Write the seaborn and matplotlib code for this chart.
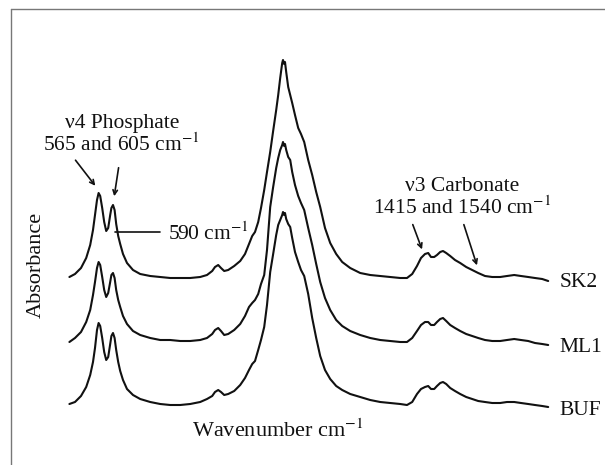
import matplotlib
matplotlib.use("Agg")
import matplotlib.pyplot as plt
from matplotlib.lines import Line2D
import seaborn as sns
import pandas as pd

# ---- data (wavenumber grid, offset absorbance of three spectra) ----
wavenumber = [496, 510, 525, 538, 548, 555, 560, 565, 569, 573, 578, 583, 588, 593, 598, 601, 605, 609, 613, 618,
              623, 630, 640, 655, 673, 698, 723, 748, 773, 798, 823, 840, 853, 860, 868, 875, 883, 893, 908, 923,
              935, 945, 953, 960, 968, 975, 983, 990, 998, 1005, 1013, 1018, 1023, 1028, 1030, 1033, 1035, 1038, 1043, 1048,
              1053, 1060, 1068, 1075, 1083, 1093, 1103, 1113, 1123, 1135, 1148, 1163, 1178, 1198, 1223, 1248, 1273, 1298, 1323, 1340,
              1353, 1365, 1375, 1385, 1393, 1400, 1408, 1415, 1423, 1430, 1438, 1448, 1460, 1473, 1488, 1503, 1518, 1535, 1553, 1573,
              1590, 1608, 1625, 1643, 1660, 1678, 1693]

sk2 = [1.43, 1.46, 1.52, 1.62, 1.75, 1.90, 2.05, 2.20, 2.27, 2.24, 2.12, 1.98, 1.89, 1.92, 2.05, 2.12, 2.15, 2.10, 1.96, 1.84,
       1.76, 1.66, 1.57, 1.50, 1.46, 1.44, 1.43, 1.42, 1.42, 1.42, 1.43, 1.45, 1.49, 1.53, 1.55, 1.52, 1.49, 1.50, 1.54, 1.59,
       1.66, 1.76, 1.84, 1.88, 1.98, 2.12, 2.30, 2.48, 2.68, 2.88, 3.10, 3.25, 3.42, 3.57, 3.60, 3.56, 3.58, 3.48, 3.33, 3.25,
       3.17, 3.05, 2.92, 2.86, 2.78, 2.60, 2.45, 2.28, 2.13, 1.92, 1.77, 1.66, 1.58, 1.52, 1.47, 1.45, 1.44, 1.43, 1.42, 1.42,
       1.46, 1.54, 1.62, 1.66, 1.67, 1.63, 1.63, 1.65, 1.68, 1.69, 1.67, 1.64, 1.60, 1.57, 1.53, 1.50, 1.47, 1.44, 1.43, 1.43,
       1.44, 1.45, 1.44, 1.43, 1.42, 1.41, 1.39]

ml1 = [0.78, 0.82, 0.88, 0.98, 1.10, 1.25, 1.38, 1.52, 1.58, 1.55, 1.43, 1.30, 1.23, 1.27, 1.38, 1.45, 1.47, 1.42, 1.30, 1.20,
       1.13, 1.04, 0.96, 0.89, 0.85, 0.82, 0.80, 0.80, 0.79, 0.79, 0.80, 0.82, 0.86, 0.90, 0.92, 0.89, 0.85, 0.86, 0.90, 0.96,
       1.04, 1.13, 1.17, 1.20, 1.26, 1.36, 1.45, 1.70, 2.13, 2.32, 2.52, 2.62, 2.70, 2.75, 2.78, 2.74, 2.76, 2.70, 2.63, 2.60,
       2.48, 2.35, 2.24, 2.17, 2.10, 1.92, 1.75, 1.56, 1.38, 1.22, 1.10, 1.00, 0.94, 0.89, 0.85, 0.82, 0.80, 0.79, 0.78, 0.78,
       0.82, 0.89, 0.95, 0.98, 0.98, 0.95, 0.95, 0.98, 1.01, 1.02, 0.99, 0.95, 0.92, 0.89, 0.86, 0.84, 0.82, 0.80, 0.79, 0.79,
       0.80, 0.81, 0.80, 0.79, 0.77, 0.76, 0.75]

buf = [0.16, 0.18, 0.24, 0.33, 0.45, 0.58, 0.72, 0.90, 0.97, 0.94, 0.82, 0.68, 0.60, 0.63, 0.76, 0.84, 0.87, 0.82, 0.70, 0.58,
       0.49, 0.40, 0.31, 0.25, 0.21, 0.18, 0.16, 0.15, 0.15, 0.16, 0.18, 0.21, 0.24, 0.28, 0.30, 0.28, 0.25, 0.26, 0.29, 0.35,
       0.42, 0.50, 0.56, 0.59, 0.70, 0.80, 0.93, 1.15, 1.48, 1.65, 1.85, 1.95, 2.00, 2.05, 2.08, 2.05, 2.07, 2.01, 1.96, 1.93,
       1.82, 1.68, 1.58, 1.50, 1.44, 1.26, 1.02, 0.82, 0.64, 0.50, 0.41, 0.34, 0.30, 0.26, 0.23, 0.20, 0.18, 0.17, 0.16, 0.15,
       0.18, 0.26, 0.31, 0.33, 0.34, 0.31, 0.31, 0.34, 0.37, 0.38, 0.36, 0.32, 0.29, 0.26, 0.23, 0.21, 0.19, 0.18, 0.17, 0.17,
       0.18, 0.18, 0.17, 0.16, 0.15, 0.14, 0.13]

samples = ["SK2", "ML1", "BUF"]
series = [sk2, ml1, buf]

# ---- build long table ----
frames = []
for name, vals in zip(samples, series):
    frames.append(pd.DataFrame({"wavenumber": wavenumber, "absorbance": vals, "sample": name}))
df = pd.concat(frames, ignore_index=True)

sns.set_style("white")
plt.rcParams["font.family"] = ["Liberation Serif", "DejaVu Serif"]
plt.rcParams["mathtext.fontset"] = "stix"

fig = plt.figure(figsize=(6.05, 4.65), dpi=100)
ax = fig.add_axes([0, 0, 1, 1])
sns.lineplot(data=df, x="wavenumber", y="absorbance", hue="sample",
             palette={s: "#111111" for s in samples}, estimator=None, sort=False,
             linewidth=1.5, legend=False, ax=ax)
ax.set_xlim(322.5, 1835)
ax.set_ylim(-0.45, 4.2)
ax.axis("off")

txt = "#111111"
fs = 15.5
# sample labels
label_y = [1.33, 0.68, 0.05]
for name, yy in zip(samples, label_y):
    ax.text(1722, yy, name, fontsize=fs, color=txt, ha="left", va="baseline")

# phosphate annotation
ax.text(627, 2.92, "ν4 Phosphate", fontsize=fs, color=txt, ha="center", va="baseline")
ax.text(627, 2.69, "565 and 605 cm$^{-1}$", fontsize=fs, color=txt, ha="center", va="baseline")
arrow_kw = dict(arrowstyle="->", color="#111111", lw=1.2, mutation_scale=8)
ax.annotate("", xy=(565, 2.32), xytext=(507, 2.62), arrowprops=arrow_kw)
ax.annotate("", xy=(607, 2.21), xytext=(620, 2.55), arrowprops=arrow_kw)

# 590 label with leader line
ax.plot([610, 722], [1.883, 1.883], color="#111111", lw=1.2)
ax.text(742, 1.80, "590 cm$^{-1}$", fontsize=fs, color=txt, ha="left", va="baseline")

# carbonate annotation
ax.text(1477, 2.29, "ν3 Carbonate", fontsize=fs, color=txt, ha="center", va="baseline")
ax.text(1477, 2.06, "1415 and 1540 cm$^{-1}$", fontsize=fs, color=txt, ha="center", va="baseline")
ax.annotate("", xy=(1380, 1.68), xytext=(1352, 1.98), arrowprops=arrow_kw)
ax.annotate("", xy=(1517, 1.52), xytext=(1480, 1.98), arrowprops=arrow_kw)

# axis titles
ax.text(802, -0.17, "Wavenumber cm$^{-1}$", fontsize=16, color=txt, ha="left", va="baseline")
ax.text(412, 1.55, "Absorbance", fontsize=16, color=txt, ha="center", va="center", rotation=90)

# outer frame (left and top edges visible)
fig.add_artist(Line2D([11 / 605, 11 / 605], [0, 1 - 9 / 465], transform=fig.transFigure, color="#777777", lw=1.0))
fig.add_artist(Line2D([11 / 605, 1], [1 - 9 / 465, 1 - 9 / 465], transform=fig.transFigure, color="#777777", lw=1.0))

fig.savefig("out.png", dpi=100)
